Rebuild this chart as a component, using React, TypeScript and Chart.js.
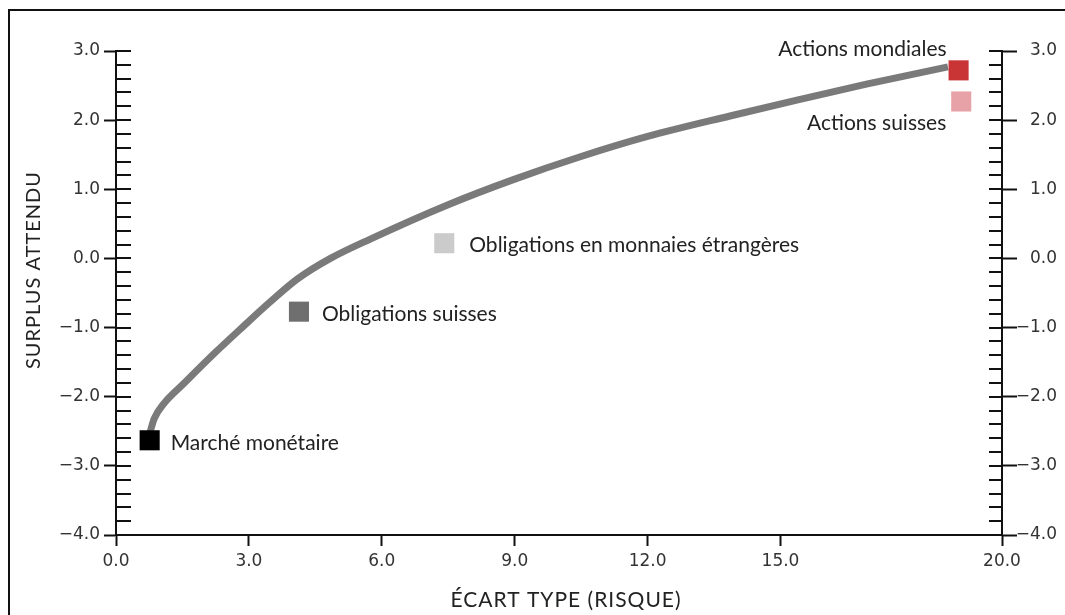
import React, { useEffect, useRef } from "react";
import { Chart, registerables } from "chart.js";

Chart.register(...registerables);

const LABEL_FONT = 'Lato, "Noto Sans", sans-serif';
const TICK_FONT = '"DejaVu Sans", sans-serif';

// Frontière efficiente (écart type, surplus attendu)
const frontierRisk = [0.77, 0.86, 1.08, 1.53, 2.21, 2.88, 3.48, 4.09, 4.84, 5.74, 7.47, 8.97, 10.48, 11.98, 13.86, 15.44, 16.94, 18.78];
const frontierSurplus = [-2.51, -2.32, -2.1, -1.81, -1.38, -0.98, -0.63, -0.3, 0.0, 0.28, 0.77, 1.14, 1.47, 1.76, 2.06, 2.3, 2.52, 2.77];

// Classes d'actifs
const assetNames = ["Marché monétaire", "Obligations suisses", "Obligations en monnaies étrangères", "Actions suisses", "Actions mondiales"];
const assetRisk = [0.76, 4.13, 7.41, 19.08, 19.02];
const assetSurplus = [-2.63, -0.77, 0.22, 2.27, 2.72];
const assetColors = ["#000000", "#6f6f6f", "#cbcbcb", "#e6a2a6", "#c93434"];

// Axes
const xTickValues = [0, 3, 6, 9, 12, 15, 20];
const yTickValues = [-4, -3, -2, -1, 0, 1, 2, 3];
const yMinorStep = 0.2;
const xTitle = "ÉCART TYPE (RISQUE)";
const yTitle = "SURPLUS ATTENDU";

// label placement relative to marker (styling)
const labelPlacement = [
  { dx: 21, dy: 10, align: "left" },
  { dx: 23, dy: 9, align: "left" },
  { dx: 25, dy: 9, align: "left" },
  { dx: -15, dy: 29, align: "right" },
  { dx: -12, dy: -14, align: "right" },
];

const fmt = (v: number) => (v < 0 ? "\u2212" : "") + Math.abs(v).toFixed(1);

const decorPlugin = {
  id: "decor",
  beforeDraw(chart: any) {
    const { ctx, width, height } = chart;
    ctx.save();
    ctx.fillStyle = "#fff";
    ctx.fillRect(0, 0, width, height);
    ctx.fillStyle = "#111";
    ctx.fillRect(8, 9, width - 8, 2);
    ctx.fillRect(8, 9, 2, height - 9);
    ctx.restore();
  },
  afterDraw(chart: any) {
    const { ctx, chartArea, scales } = chart;
    const yS = scales.y;
    ctx.save();
    // minor / inner ticks
    ctx.strokeStyle = "#111";
    ctx.lineWidth = 2;
    ctx.beginPath();
    const n = Math.round((yS.max - yS.min) / yMinorStep);
    for (let k = 0; k <= n; k++) {
      const v = yS.min + k * yMinorStep;
      const py = Math.round(yS.getPixelForValue(v));
      ctx.moveTo(chartArea.left, py);
      ctx.lineTo(chartArea.left + 15, py);
      ctx.moveTo(chartArea.right - 13, py);
      ctx.lineTo(chartArea.right, py);
    }
    ctx.stroke();

    // asset labels
    ctx.fillStyle = "#222";
    ctx.font = `21px ${LABEL_FONT}`;
    ctx.textBaseline = "alphabetic";
    assetNames.forEach((name, i) => {
      const px = scales.x.getPixelForValue(assetRisk[i]);
      const py = yS.getPixelForValue(assetSurplus[i]);
      const p = labelPlacement[i];
      ctx.textAlign = p.align;
      ctx.fillText(name, px + p.dx, py + p.dy);
    });

    // axis titles
    ctx.fillStyle = "#222";
    ctx.textAlign = "center";
    ctx.textBaseline = "middle";
    (ctx as any).letterSpacing = "1px";
    ctx.font = `21px ${LABEL_FONT}`;
    ctx.fillText(xTitle, 566, 600);
    ctx.font = `20px ${LABEL_FONT}`;
    ctx.translate(34, 270);
    ctx.rotate(-Math.PI / 2);
    ctx.fillText(yTitle, 0, 0);
    ctx.restore();
  },
};

export default function App() {
  const ref = useRef<HTMLCanvasElement | null>(null);
  useEffect(() => {
    if (!ref.current) return;
    const tickFont = { family: TICK_FONT, size: 17 };
    const yCommon = (tickLength: number, padding: number, extra: any) => ({
      type: "linear",
      min: -4,
      max: 3,
      afterBuildTicks: (s: any) => {
        s.ticks = yTickValues.map((v) => ({ value: v }));
      },
      grid: { drawOnChartArea: false, drawTicks: true, tickLength, tickColor: "#111", tickWidth: 2 },
      border: { display: true, color: "#111", width: 2 },
      ticks: { font: tickFont, color: "#333", padding, callback: (v: number) => fmt(v), autoSkip: false, ...extra },
    });
    const chart = new Chart(ref.current, {
      type: "scatter",
      data: {
        datasets: [
          {
            label: "Classes d'actifs",
            data: assetRisk.map((x, i) => ({ x, y: assetSurplus[i] })),
            backgroundColor: assetColors,
            borderWidth: 0,
            pointStyle: "rect",
            pointRadius: 14.2,
            order: 0,
          },
          {
            label: "Frontière",
            data: frontierRisk.map((x, i) => ({ x, y: frontierSurplus[i] })),
            showLine: true,
            borderColor: "#7a7a7a",
            borderWidth: 7,
            pointRadius: 0,
            cubicInterpolationMode: "monotone",
            order: 1,
          },
        ],
      },
      options: {
        animation: false,
        responsive: true,
        maintainAspectRatio: false,
        layout: { padding: { top: 51, left: 0, right: 8, bottom: 0 } },
        plugins: { legend: { display: false }, tooltip: { enabled: false } },
        scales: {
          x: {
            type: "linear",
            position: "bottom",
            min: 0,
            max: 20,
            afterBuildTicks: (s: any) => {
              s.ticks = xTickValues.map((v) => ({ value: v }));
            },
            afterFit: (s: any) => {
              s.height = 80;
            },
            grid: { drawOnChartArea: false, drawTicks: true, tickLength: 11, tickColor: "#111", tickWidth: 2 },
            border: { display: true, color: "#111", width: 2 },
            ticks: { font: tickFont, color: "#333", padding: 5, maxRotation: 0, autoSkip: false, callback: (v: number) => fmt(v) },
          },
          y: {
            ...yCommon(12, 4, {}),
            position: "left",
            afterFit: (s: any) => {
              s.width = 116;
            },
          },
          y2: {
            ...yCommon(15, 0, { crossAlign: "far" }),
            position: "right",
            afterFit: (s: any) => {
              s.width = 55;
            },
          },
        },
      } as any,
      plugins: [decorPlugin],
    } as any);
    return () => chart.destroy();
  }, []);

  return (
    <div style={{ position: "fixed", left: 0, top: 0, width: 1065, height: 615 }}>
      <canvas ref={ref} />
    </div>
  );
}
